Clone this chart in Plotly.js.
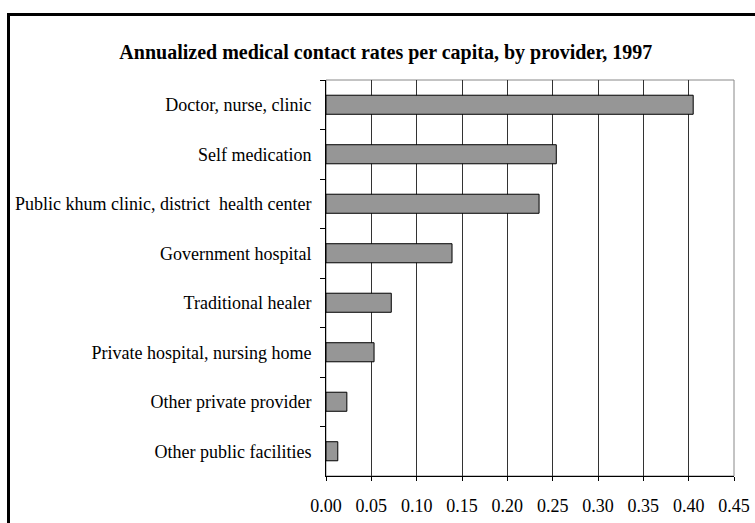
<!DOCTYPE html>
<html>
<head>
<meta charset="utf-8">
<script src="https://cdn.plot.ly/plotly-3.0.1.min.js"></script>
<style>
  html, body { margin: 0; padding: 0; background: #fff; }
  #wrap { position: relative; width: 755px; height: 523px; overflow: hidden; }
  #chart { position: absolute; left: 0; top: 0; width: 755px; height: 523px; }
  #frame { position: absolute; left: 7px; top: 13px; width: 800px; height: 600px;
           border-left: 3px solid #000; border-top: 3px solid #000; pointer-events: none; }
</style>
</head>
<body>
<div id="wrap">
  <div id="chart"></div>
  <div id="frame"></div>
</div>
<script>
const categories = [
  "Doctor, nurse, clinic",
  "Self medication",
  "Public khum clinic, district\u00a0 health center",
  "Government hospital",
  "Traditional healer",
  "Private hospital, nursing home",
  "Other private provider",
  "Other public facilities"
];
const rates = [0.405, 0.254, 0.235, 0.139, 0.072, 0.053, 0.023, 0.013];
const xTickVals = [0, 0.05, 0.10, 0.15, 0.20, 0.25, 0.30, 0.35, 0.40, 0.45];
const titleText = "Annualized medical contact rates per capita, by provider, 1997";

const serif = "Liberation Serif, Times New Roman, serif";

const trace = {
  type: "bar",
  orientation: "h",
  x: rates,
  y: categories,
  marker: { color: "#969696", line: { color: "#000", width: 1 } },
  hoverinfo: "x+y"
};

const layout = {
  width: 755,
  height: 523,
  margin: { l: 326, r: 21, t: 80, b: 47, pad: 0 },
  paper_bgcolor: "#fff",
  plot_bgcolor: "#fff",
  showlegend: false,
  bargap: 0.615,
  font: { family: serif, size: 18, color: "#000" },
  title: {
    text: "<b>" + titleText + "</b>",
    font: { family: serif, size: 20, color: "#000" },
    x: 0.511, xref: "container", xanchor: "center",
    y: 0.9, yref: "container", yanchor: "middle"
  },
  xaxis: {
    range: [0, 0.45],
    tickvals: xTickVals,
    tickformat: ".2f",
    showgrid: true,
    gridcolor: "#333",
    gridwidth: 1,
    zeroline: false,
    showline: true,
    linecolor: "#000",
    linewidth: 1,
    ticks: "outside",
    ticklen: 4,
    tickcolor: "#000",
    ticklabelstandoff: 9,
    tickfont: { family: serif, size: 18, color: "#000" },
    fixedrange: true
  },
  yaxis: {
    type: "category",
    autorange: "reversed",
    showgrid: false,
    zeroline: false,
    showline: true,
    linecolor: "#000",
    linewidth: 1,
    ticks: "outside",
    tickson: "boundaries",
    ticklen: 5,
    tickcolor: "#000",
    ticklabelstandoff: 10,
    tickfont: { family: serif, size: 18, color: "#000" },
    fixedrange: true
  },
  shapes: [{
    type: "rect", xref: "paper", yref: "paper",
    x0: 0, x1: 1, y0: 0, y1: 1,
    line: { color: "#888", width: 1 },
    layer: "below"
  }]
};

Plotly.newPlot("chart", [trace], layout, { displayModeBar: false, staticPlot: true });
</script>
</body>
</html>
